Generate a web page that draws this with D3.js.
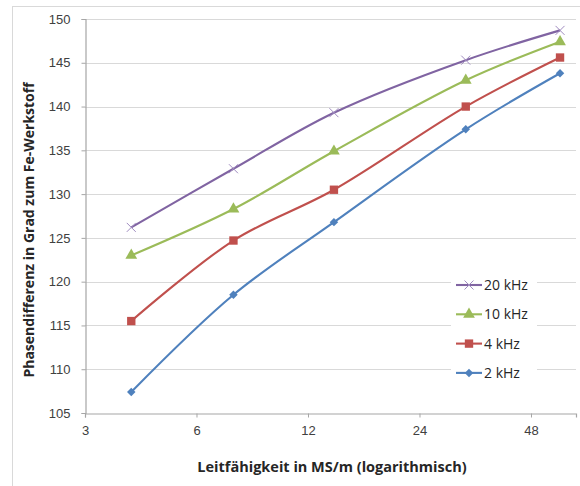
<!DOCTYPE html>
<html>
<head>
<meta charset="utf-8">
<script src="https://cdn.jsdelivr.net/npm/d3@7"></script>
<style>
  body { margin: 0; background: #fff; }
  svg { display: block; font-family: "Open Sans", "Liberation Sans", sans-serif; }
</style>
</head>
<body>
<div id="chart"></div>
<script>
// conductivity values (MS/m)
const conductivity = [4.0, 7.55, 14.1, 32, 57.5];
const series = ["20 kHz", "10 kHz", "4 kHz", "2 kHz"];
const phase20k = [126.2, 132.9, 139.3, 145.3, 148.7];
const phase10k = [123.0, 128.3, 134.9, 143.0, 147.4];
const phase4k = [115.5, 124.7, 130.5, 140.0, 145.6];
const phase2k = [107.4, 118.5, 126.8, 137.4, 143.8];
const xTicks = [3, 6, 12, 24, 48];
const yTicks = [105, 110, 115, 120, 125, 130, 135, 140, 145, 150];

const width = 580, height = 486;
const margin = { top: 19, right: 4, bottom: 73, left: 85 };

const svg = d3.select("#chart")
    .append("svg")
    .attr("width", width)
    .attr("height", height);

// chart frame
svg.append("rect")
    .attr("x", 12.5).attr("y", 6.5)
    .attr("width", 600).attr("height", 500)
    .attr("fill", "none")
    .attr("stroke", "#d9d9d9");

const x = d3.scaleLog().base(2)
    .domain([3, 63.5])
    .range([margin.left, width - margin.right]);

const y = d3.scaleLinear()
    .domain([105, 150])
    .range([height - margin.bottom, margin.top]);

// gridlines
svg.append("g")
    .selectAll("line")
    .data(yTicks.slice(1))
    .join("line")
    .attr("x1", margin.left).attr("x2", width - margin.right)
    .attr("y1", d => Math.round(y(d)) + 0.5).attr("y2", d => Math.round(y(d)) + 0.5)
    .attr("stroke", "#d9d9d9")
    .attr("stroke-width", 1.2);

// x axis
const xAxis = svg.append("g")
    .attr("transform", `translate(0, ${Math.round(y(105)) + 0.5})`)
    .call(d3.axisBottom(x).tickValues(xTicks).tickFormat(d3.format("d")).tickSize(4).tickPadding(8));
xAxis.select(".domain").attr("stroke", "#a6a6a6").attr("stroke-width", 1.2);
xAxis.selectAll(".tick line").attr("stroke", "#a6a6a6");
xAxis.selectAll("text").attr("fill", "#404040").attr("font-size", 13);

// y axis
const yAxis = svg.append("g")
    .attr("transform", `translate(${margin.left + 0.5}, 0)`)
    .call(d3.axisLeft(y).tickValues(yTicks).tickSize(4).tickPadding(11));
yAxis.select(".domain").attr("stroke", "#a6a6a6").attr("stroke-width", 1.2);
yAxis.selectAll(".tick line").attr("stroke", "#a6a6a6");
yAxis.selectAll("text").attr("fill", "#404040").attr("font-size", 13);

// axis titles
svg.append("text")
    .attr("x", 332).attr("y", 472)
    .attr("text-anchor", "middle")
    .attr("font-size", 14.5)
    .attr("font-weight", "bold")
    .attr("fill", "#262626")
    .text("Leitfähigkeit in MS/m (logarithmisch)");

svg.append("text")
    .attr("transform", `translate(34, 230) rotate(-90)`)
    .attr("text-anchor", "middle")
    .attr("font-size", 14)
    .attr("font-weight", "bold")
    .attr("fill", "#262626")
    .text("Phasendifferenz in Grad zum Fe-Werkstoff");

const colors = ["#8064a2", "#9bbb59", "#c0504d", "#4f81bd"];
const values = [phase20k, phase10k, phase4k, phase2k];
const symbols = [d3.symbolCross, d3.symbolTriangle, d3.symbolSquare, d3.symbolSquare];

const line = d3.line()
    .x(d => x(d[0]))
    .y(d => y(d[1]))
    .curve(d3.curveCatmullRom.alpha(0.5));

// draw lower series first so the top one sits above
for (let i = series.length - 1; i >= 0; i--) {
    const pts = conductivity.map((c, j) => [c, values[i][j]]);
    svg.append("path")
        .datum(pts)
        .attr("fill", "none")
        .attr("stroke", colors[i])
        .attr("stroke-width", 2.1)
        .attr("d", line);
    drawMarkers(svg.append("g"), pts.map(p => [x(p[0]), y(p[1])]), i);
}

function drawMarkers(g, pts, i) {
    if (i === 0) {
        // thin x marker
        g.selectAll("path")
            .data(pts)
            .join("path")
            .attr("transform", d => `translate(${d[0]}, ${d[1]})`)
            .attr("d", "M-4.5,-4.5L4.5,4.5M-4.5,4.5L4.5,-4.5")
            .attr("stroke", "#a08cc0")
            .attr("stroke-width", 1)
            .attr("fill", "none");
    } else {
        const size = [0, 60, 70, 36][i];
        // excel style diamond = square turned 45 degrees
        const rot = i === 3 ? 45 : 0;
        g.selectAll("path")
            .data(pts)
            .join("path")
            .attr("transform", d => `translate(${d[0]}, ${d[1]}) rotate(${rot})`)
            .attr("d", d3.symbol().type(symbols[i]).size(size))
            .attr("fill", colors[i]);
    }
}

// legend
const legend = svg.append("g");
legend.append("rect")
    .attr("x", 451).attr("y", 272)
    .attr("width", 86).attr("height", 114)
    .attr("fill", "#fff");
series.forEach((s, i) => {
    const ly = 285 + i * 29.3;
    legend.append("line")
        .attr("x1", 456).attr("x2", 482)
        .attr("y1", ly).attr("y2", ly)
        .attr("stroke", colors[i])
        .attr("stroke-width", 2.1);
    drawMarkers(legend.append("g"), [[469, ly]], i);
    legend.append("text")
        .attr("x", 484).attr("y", ly)
        .attr("dy", "0.35em")
        .attr("font-size", 14)
        .attr("fill", "#262626")
        .text(s);
});
</script>
</body>
</html>
